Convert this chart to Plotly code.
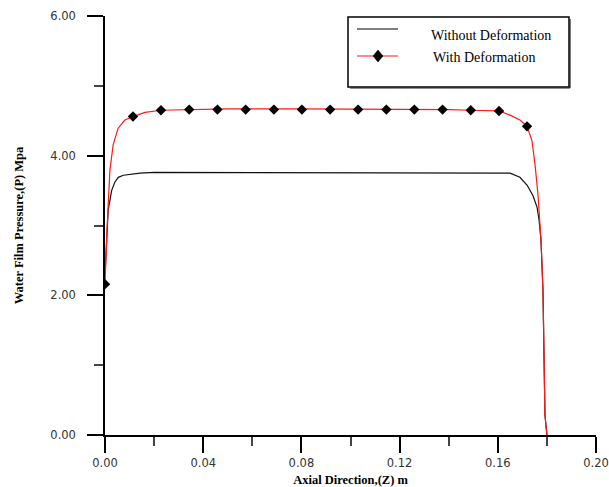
import plotly.graph_objects as go

# ---- data ----
z_without = [0, 0.0004, 0.0008, 0.0013, 0.002, 0.0027, 0.004, 0.0054, 0.0075, 0.0102, 0.0143, 0.02,
             0.05, 0.08, 0.11, 0.14, 0.16, 0.165, 0.169, 0.1719, 0.1743, 0.176, 0.1768, 0.1776,
             0.1784, 0.1788, 0.1792, 0.18]
p_without = [2.30, 2.60, 2.98, 3.22, 3.36, 3.50, 3.62, 3.69, 3.72, 3.73, 3.75, 3.76,
             3.76, 3.76, 3.76, 3.76, 3.76, 3.75, 3.69, 3.58, 3.43, 3.26, 3.08, 2.79,
             2.07, 1.22, 0.29, 0.0]

z_with = [0, 0.0008, 0.002, 0.0033, 0.0053, 0.0081, 0.0114, 0.0163, 0.0228, 0.0346, 0.05, 0.08,
          0.11, 0.14, 0.1487, 0.1605, 0.165, 0.169, 0.1719, 0.1739, 0.1752, 0.1764, 0.1776,
          0.1784, 0.1788, 0.1792, 0.18]
p_with = [2.16, 2.93, 3.79, 4.15, 4.39, 4.51, 4.56, 4.62, 4.65, 4.66, 4.67, 4.67,
          4.67, 4.66, 4.65, 4.64, 4.58, 4.51, 4.42, 4.22, 3.86, 3.43, 2.79,
          2.07, 1.22, 0.29, 0.0]

z_markers = [0, 0.0114, 0.0228, 0.0343, 0.0458, 0.0573, 0.0688, 0.0802, 0.0917, 0.1031,
             0.1146, 0.126, 0.1375, 0.149, 0.1605, 0.1719]
p_markers = [2.16, 4.56, 4.65, 4.66, 4.66, 4.66, 4.66, 4.66, 4.66, 4.66,
             4.66, 4.66, 4.66, 4.65, 4.64, 4.42]

legend_names = ["Without Deformation", "With Deformation"]
x_title = "Axial Direction,(Z) m"
y_title = "Water Film Pressure,(P) Mpa"

W, H = 609, 487
ML, MR, MT, MB = 105, 13, 16, 52
PW, PH = W - ML - MR, H - MT - MB


def px(x):
    return (x - ML) / PW


def py(y):
    return (H - MB - y) / PH


fig = go.Figure()
fig.add_trace(go.Scatter(x=z_without, y=p_without, mode="lines",
                         line=dict(color="#111111", width=1.2), showlegend=False,
                         name=legend_names[0]))
fig.add_trace(go.Scatter(x=z_with, y=p_with, mode="lines",
                         line=dict(color="#ff1a1a", width=1.2), showlegend=False,
                         name=legend_names[1]))
fig.add_trace(go.Scatter(x=z_markers, y=p_markers, mode="markers",
                         marker=dict(symbol="diamond", color="black", size=8),
                         showlegend=False, name=legend_names[1]))

tickfont = dict(family="DejaVu Sans, Verdana, sans-serif", size=11.5, color="#333333")
serif = "Times New Roman, Liberation Serif, serif"

fig.update_xaxes(range=[0, 0.2], dtick=0.04, tick0=0, tickformat=".2f", automargin=False,
                 showline=True, linecolor="black", linewidth=1.5,
                 ticks="outside", ticklen=16, tickwidth=1.5, tickcolor="black",
                 minor=dict(dtick=0.02, ticks="outside", ticklen=9, tickwidth=1.5, tickcolor="#444"),
                 showgrid=False, zeroline=False, tickfont=tickfont,
                 title=dict(text=x_title, font=dict(family=serif, size=12.5, color="black", weight="bold"),
                            standoff=10))
fig.update_yaxes(range=[0, 6], dtick=2, tick0=0, tickformat=".2f", automargin=False,
                 showline=True, linecolor="black", linewidth=1.5,
                 ticks="outside", ticklen=16, tickwidth=1.5, tickcolor="black",
                 minor=dict(dtick=1, ticks="outside", ticklen=9, tickwidth=1.5, tickcolor="#444"),
                 showgrid=False, zeroline=False, tickfont=tickfont, ticklabelstandoff=9,
                 title=dict(text=y_title, font=dict(family=serif, size=12.5, color="black", weight="bold"),
                            standoff=24))

# manual legend box
shapes = [
    dict(type="rect", xref="paper", yref="paper", x0=px(348), x1=px(569), y0=py(87), y1=py(17),
         line=dict(color="black", width=1.5), fillcolor="white", layer="above"),
    dict(type="line", xref="paper", yref="paper", x0=px(350), x1=px(570), y0=py(88), y1=py(88),
         line=dict(color="#222", width=1.2)),
    dict(type="line", xref="paper", yref="paper", x0=px(570), x1=px(570), y0=py(19), y1=py(88),
         line=dict(color="#222", width=1.2)),
    dict(type="line", xref="paper", yref="paper", x0=px(357), x1=px(398), y0=py(29), y1=py(29),
         line=dict(color="black", width=1.2), layer="above"),
    dict(type="line", xref="paper", yref="paper", x0=px(357), x1=px(398), y0=py(56), y1=py(56),
         line=dict(color="#ff1a1a", width=1.2), layer="above"),
    dict(type="path", xref="paper", yref="paper",
         path=f"M {px(378)} {py(50)} L {px(383)} {py(56)} L {px(378)} {py(62)} L {px(373)} {py(56)} Z",
         fillcolor="black", line=dict(color="black", width=0.5), layer="above"),
]

annotations = [
    dict(text=legend_names[0], xref="paper", yref="paper", x=px(429), y=py(35),
         xanchor="left", yanchor="middle", showarrow=False,
         font=dict(family=serif, size=14, color="black")),
    dict(text=legend_names[1], xref="paper", yref="paper", x=px(431), y=py(57),
         xanchor="left", yanchor="middle", showarrow=False,
         font=dict(family=serif, size=14, color="black")),
]

fig.update_layout(width=W, height=H, margin=dict(l=ML, r=MR, t=MT, b=MB),
                  plot_bgcolor="white", paper_bgcolor="white",
                  shapes=shapes, annotations=annotations, showlegend=False)

fig.write_html("out.html")
